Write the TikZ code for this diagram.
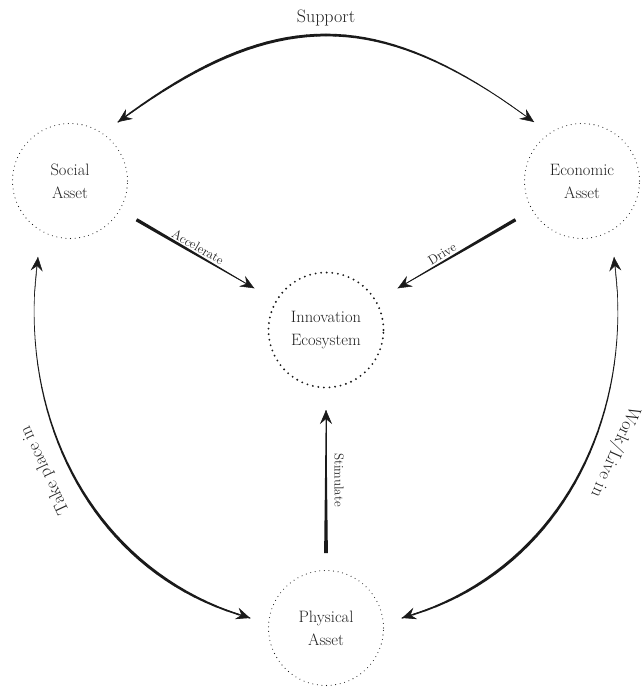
\documentclass[tikz,border=0pt]{standalone}
\usepackage{fontspec}
\usetikzlibrary{arrows.meta,calc}
\definecolor{ink}{HTML}{1A1A1A}
\definecolor{txt}{HTML}{222222}
% sample a cubic Bezier #2..#5 into coordinates #1 0..40
\newcommand\bezsample[5]{%
  \foreach \k in {0,...,40}{%
    \pgfmathsetmacro\tt{\k/40}%
    \pgfmathsetmacro\ca{(1-\tt)*(1-\tt)*(1-\tt)}%
    \pgfmathsetmacro\cb{3*\tt*(1-\tt)*(1-\tt)}%
    \pgfmathsetmacro\cc{3*\tt*\tt*(1-\tt)}%
    \pgfmathsetmacro\cd{\tt*\tt*\tt}%
    \coordinate (#1\k) at ($\ca*(#2)+\cb*(#3)+\cc*(#4)+\cd*(#5)$);
  }}
% draw sampled path with width expression in \t
\newcommand\taperpath[2]{%
  \foreach \k in {1,...,40}{%
    \pgfmathtruncatemacro\kp{\k-1}%
    \pgfmathsetmacro\t{(\k-0.5)/40}%
    \pgfmathsetmacro\w{#2}%
    \draw[ink, line width=\w pt, line cap=round] (#1\kp) -- (#1\k);
  }}
% tapered straight shaft: #1 tail, #2 head, #3 mid name, half widths #4 tail, #5 mid, #6 head
\newcommand\wedgeshaft[6]{%
  \coordinate (#3) at ($(#1)!0.4!(#2)$);
  \fill[ink] ($(#1)!#4!90:(#2)$) -- ($(#3)!#5!90:(#2)$) -- ($(#2)!#6!-90:(#1)$)
    -- ($(#2)!#6!90:(#1)$) -- ($(#3)!#5!-90:(#2)$) -- ($(#1)!#4!-90:(#2)$) -- cycle;
}
\tikzset{
  asset/.style={circle, minimum size=115pt, inner sep=0pt, draw=ink,
    line width=1.1pt, dash pattern=on 0pt off 4.6pt, line cap=round,
    align=center, text=txt,
    font={\fontsize{16.5}{23}\selectfont\addfontfeatures{LetterSpace=5}}},
  innov/.style={line width=2.1pt, dash pattern=on 0pt off 5.6pt},
  elab/.style={inner sep=0pt, text=txt,
    font={\fontsize{13}{15}\selectfont\addfontfeatures{LetterSpace=8}}},
  biglab/.style={inner sep=0pt, text=txt, font={\fontsize{18}{20}\selectfont}},
  tip/.style={-{Stealth[length=14pt, width=12pt, inset=5pt]}},
}
\begin{document}
\begin{tikzpicture}[x=1pt, y=-1pt]
\useasboundingbox (0,0) rectangle (644,691);

% nodes
\node[asset] (soc) at (70,181) {Social\\Asset};
\node[asset] (eco) at (582,181) {Economic\\Asset};
\node[asset, innov] (inn) at (326,330) {Innovation\\Ecosystem};
\node[asset] (phy) at (326,628) {Physical\\Asset};

% connector end points and control points
\coordinate (supL) at ($(soc)+(48,-59)$);
\coordinate (supR) at ($(eco)+(-48,-59)$);
\coordinate (supA) at (274,6);
\coordinate (supB) at (378,6);
\coordinate (tpTop) at ($(soc)+(-32,76)$);
\coordinate (tpBot) at ($(phy)+(-76,-10)$);
\coordinate (tpA) at (15,420);
\coordinate (tpB) at (95,575);
\coordinate (wlTop) at ($(eco)+(32,76)$);
\coordinate (wlBot) at ($(phy)+(76,-10)$);
\coordinate (wlA) at (637,420);
\coordinate (wlB) at (557,575);
\coordinate (accT) at ($(soc)!77pt!(inn)$);
\coordinate (accH) at ($(inn)!83pt!(soc)$);
\coordinate (drvT) at ($(eco)!77pt!(inn)$);
\coordinate (drvH) at ($(inn)!83pt!(eco)$);
\coordinate (stmT) at ($(phy)!75pt!(inn)$);
\coordinate (stmH) at ($(inn)!80pt!(phy)$);

% Support
\bezsample{sp}{supL}{supA}{supB}{supR}
\taperpath{sp}{0.5+0.6*(1-\t)+2.0*sin(180*(\t)^0.76)}
\draw[ink, line width=0.6pt, tip] (sp3) -- (sp0);
\draw[ink, line width=0.5pt, tip] (sp37) -- (sp40);

% Take place in
\bezsample{tp}{tpTop}{tpA}{tpB}{tpBot}
\taperpath{tp}{0.5+0.6*\t+2.0*sin(180*(\t)^1.94)}
\draw[ink, line width=0.5pt, tip] (tp3) -- (tp0);
\draw[ink, line width=0.6pt, tip] (tp37) -- (tp40);

% Work/Live in
\bezsample{wl}{wlTop}{wlA}{wlB}{wlBot}
\taperpath{wl}{0.5+0.6*\t+2.0*sin(180*(\t)^1.94)}
\draw[ink, line width=0.5pt, tip] (wl3) -- (wl0);
\draw[ink, line width=0.6pt, tip] (wl37) -- (wl40);

% straight arrows
\draw[ink, line width=0.5pt, tip] (accT) -- (accH);
\wedgeshaft{accT}{accH}{accM}{1.7pt}{1.3pt}{0.25pt}
\draw[ink, line width=0.5pt, tip] (drvT) -- (drvH);
\wedgeshaft{drvT}{drvH}{drvM}{1.7pt}{1.3pt}{0.25pt}
\draw[ink, line width=0.5pt, tip] (stmT) -- (stmH);
\wedgeshaft{stmT}{stmH}{stmM}{1.9pt}{1.2pt}{0.25pt}

% labels
\node[biglab] (supl) at (326,18) {Support};
\node[elab, rotate=-30] (accl) at (198,247) {Accelerate};
\node[elab, rotate=31] (drvl) at (442,254) {Drive};
\node[elab, rotate=-90] (stml) at (339,480) {Stimulate};
\node[biglab, rotate=115] (tpl) at (45,470) {Take place in};
\node[biglab, rotate=-114] (wll) at (615,452) {Work/Live in};
\end{tikzpicture}
\end{document}
